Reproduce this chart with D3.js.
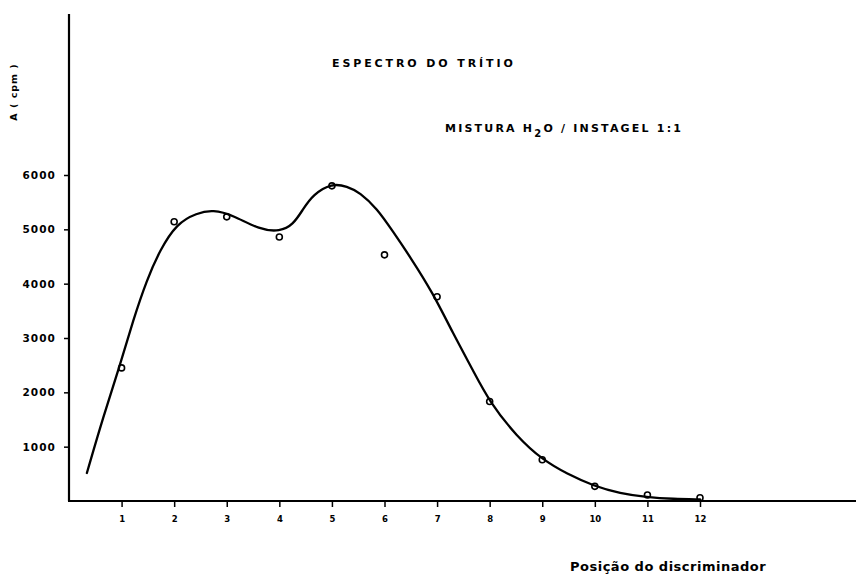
<!DOCTYPE html>
<html>
<head>
<meta charset="utf-8">
<script src="https://cdn.jsdelivr.net/npm/d3@7"></script>
<style>
  html, body { margin: 0; padding: 0; background: #fff; }
  svg { display: block; }
  text { font-family: "DejaVu Sans", sans-serif; font-weight: bold; fill: #000; }
</style>
</head>
<body>
<svg id="chart" width="856" height="588"></svg>
<script>
// Discriminator positions and measured count rates (cpm)
const positions = [1, 2, 3, 4, 5, 6, 7, 8, 9, 10, 11, 12];
const counts = [2450, 5140, 5230, 4860, 5800, 4530, 3760, 1830, 760, 270, 110, 60];

// Hand-drawn smoothed spectrum curve (position, cpm)
const curveX = [0.34, 0.65, 0.97, 1.22, 1.48, 1.73, 2.05, 2.43, 2.74, 3.12, 3.63, 4.01, 4.26, 4.45, 4.64, 5.0, 5.29, 5.53, 5.86, 6.16, 6.49, 6.92, 7.3, 7.68, 8.0, 8.52, 9.01, 9.47, 9.98, 10.48, 10.99, 11.49, 12.0];
const curveY = [515, 1546, 2500, 3330, 4070, 4620, 5110, 5300, 5360, 5260, 4990, 4960, 5080, 5370, 5640, 5850, 5790, 5680, 5380, 4960, 4490, 3830, 3090, 2410, 1820, 1180, 755, 500, 276, 140, 70, 37, 30];

const yTicks = [1000, 2000, 3000, 4000, 5000, 6000];
const xTickLabels = ["1", "2", "3", "4", "5", "6", "7", "8", "9", "10", "11", "12"];

const svg = d3.select("#chart");

const x = d3.scaleLinear().domain([0, 12]).range([69, 700]);
const y = d3.scaleLinear().domain([0, 6000]).range([501, 175]);

// Axes
const yAxis = d3.axisLeft(y).tickValues(yTicks).tickSize(5).tickFormat(d3.format("d"));
const gy = svg.append("g").attr("transform", `translate(${x(0)},0)`).call(yAxis);
gy.select(".domain").remove();
gy.selectAll(".tick line").attr("stroke", "#000").attr("stroke-width", 1.5);
gy.selectAll(".tick text")
  .attr("x", -13)
  .attr("font-size", 10.5)
  .attr("letter-spacing", 1.1)
  .attr("font-family", "DejaVu Sans")
  .attr("font-weight", "bold");

const xAxis = d3.axisBottom(x).tickValues(positions).tickSize(6)
  .tickFormat((d, i) => xTickLabels[i]);
const gx = svg.append("g").attr("transform", `translate(0,${y(0)})`).call(xAxis);
gx.select(".domain").remove();
gx.selectAll(".tick line").attr("stroke", "#000").attr("stroke-width", 1.5);
gx.selectAll(".tick text")
  .attr("y", 15)
  .attr("font-size", 8.5)
  .attr("font-family", "DejaVu Sans")
  .attr("font-weight", "bold");

// Axis lines
svg.append("line")
  .attr("x1", x(0)).attr("x2", x(0))
  .attr("y1", 14).attr("y2", y(0))
  .attr("stroke", "#000").attr("stroke-width", 2.2);
svg.append("line")
  .attr("x1", x(0) - 1).attr("x2", 856)
  .attr("y1", y(0)).attr("y2", y(0))
  .attr("stroke", "#000").attr("stroke-width", 2);

// Data points
svg.append("g").selectAll("circle")
  .data(positions)
  .join("circle")
  .attr("cx", d => x(d))
  .attr("cy", (d, i) => y(counts[i]))
  .attr("r", 3)
  .attr("fill", "#fff")
  .attr("stroke", "#000")
  .attr("stroke-width", 1.6);

// Spectrum curve (B-spline smooths the hand-drawn trace)
const line = d3.line()
  .x((d, i) => x(curveX[i]))
  .y((d, i) => y(curveY[i]))
  .curve(d3.curveBasis);
svg.append("path")
  .attr("d", line(curveX))
  .attr("fill", "none")
  .attr("stroke", "#000")
  .attr("stroke-width", 2.3)
  .attr("stroke-linecap", "round");

// Titles
svg.append("text")
  .attr("x", 332).attr("y", 67)
  .attr("font-size", 11)
  .attr("letter-spacing", 2.9)
  .text("ESPECTRO DO TRÍTIO");

const sub = svg.append("text")
  .attr("x", 445).attr("y", 132)
  .attr("font-size", 11)
  .attr("letter-spacing", 2.2);
sub.append("tspan").text("MISTURA  H");
sub.append("tspan").attr("dy", 5).attr("font-size", 10).text("2");
sub.append("tspan").attr("dy", -5).text("O / INSTAGEL  1:1");

// Axis titles
svg.append("text")
  .attr("transform", "translate(17,92) rotate(-90)")
  .attr("text-anchor", "middle")
  .attr("font-size", 9.5)
  .attr("letter-spacing", 1)
  .text("A ( cpm )");

svg.append("text")
  .attr("x", 570).attr("y", 571)
  .attr("font-size", 13)
  .attr("letter-spacing", 0.5)
  .text("Posição do discriminador");
</script>
</body>
</html>
